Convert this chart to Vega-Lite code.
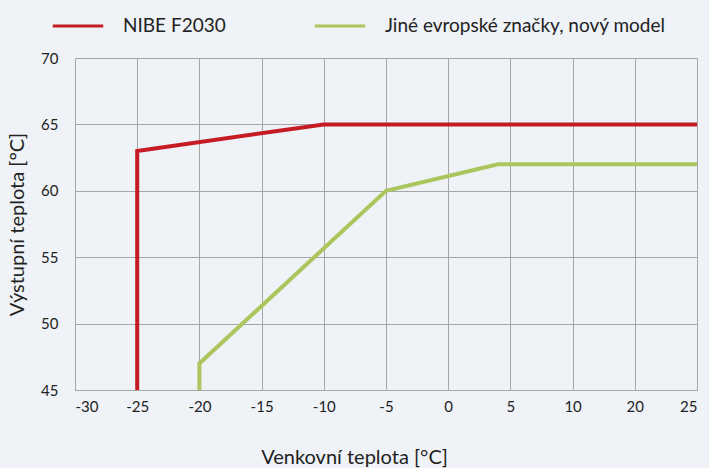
{
  "$schema": "https://vega.github.io/schema/vega-lite/v6.json",
  "width": 622,
  "height": 332,
  "autosize": "none",
  "padding": {"left": 75, "top": 58, "right": 12, "bottom": 78},
  "background": "#eff2f6",
  "data": {
    "values": [
      {"series": "NIBE F2030", "ord": 1, "x": -25, "y": 45},
      {"series": "NIBE F2030", "ord": 2, "x": -25, "y": 63},
      {"series": "NIBE F2030", "ord": 3, "x": -10, "y": 65},
      {"series": "NIBE F2030", "ord": 4, "x": 20, "y": 65},
      {"series": "Jiné evropské značky, nový model", "ord": 1, "x": -20, "y": 45},
      {"series": "Jiné evropské značky, nový model", "ord": 2, "x": -20, "y": 47},
      {"series": "Jiné evropské značky, nový model", "ord": 3, "x": -5, "y": 60},
      {"series": "Jiné evropské značky, nový model", "ord": 4, "x": 4, "y": 62},
      {"series": "Jiné evropské značky, nový model", "ord": 5, "x": 20, "y": 62}
    ]
  },
  "mark": {"type": "line", "strokeWidth": 4, "strokeJoin": "miter", "strokeCap": "butt", "clip": true},
  "encoding": {
    "x": {
      "field": "x", "type": "quantitative",
      "scale": {"domain": [-30, 20], "nice": false, "zero": false},
      "axis": {
        "values": [-30, -25, -20, -15, -10, -5, 0, 5, 10, 15, 20],
        "labelExpr": "datum.value == 15 ? '20' : datum.value == 20 ? '25' : toString(datum.value)",
        "title": "Venkovní teplota [°C]",
        "titleX": 279,
        "titleAlign": "center",
        "titlePadding": 33,
        "labelPadding": 9
      }
    },
    "y": {
      "field": "y", "type": "quantitative",
      "scale": {"domain": [45, 70], "nice": false, "zero": false},
      "axis": {
        "values": [45, 50, 55, 60, 65, 70],
        "title": "Výstupní teplota [°C]",
        "titlePadding": 13,
        "labelPadding": 17
      }
    },
    "color": {
      "field": "series", "type": "nominal",
      "scale": {
        "domain": ["NIBE F2030", "Jiné evropské značky, nový model"],
        "range": ["#c41c22", "#abc65c"]
      },
      "legend": {
        "orient": "none",
        "direction": "horizontal",
        "legendX": -24,
        "legendY": -59,
        "title": null,
        "symbolType": "stroke",
        "symbolSize": 2550,
        "symbolStrokeWidth": 3,
        "labelOffset": 18,
        "columnPadding": 82,
        "labelLimit": 400,
        "labelFontSize": 19,
        "labelFont": "Lato",
        "labelColor": "#222222"
      }
    },
    "order": {"field": "ord", "type": "quantitative"}
  },
  "config": {
    "view": {"stroke": "#a6a6a6", "strokeWidth": 1},
    "axis": {
      "domain": false,
      "ticks": false,
      "grid": true,
      "gridColor": "#a6a6a6",
      "gridOpacity": 1,
      "gridWidth": 1,
      "labelFont": "Lato",
      "labelFontSize": 15,
      "labelColor": "#222222",
      "titleFont": "Lato",
      "titleFontSize": 20,
      "titleFontWeight": "normal",
      "titleColor": "#222222"
    }
  }
}
